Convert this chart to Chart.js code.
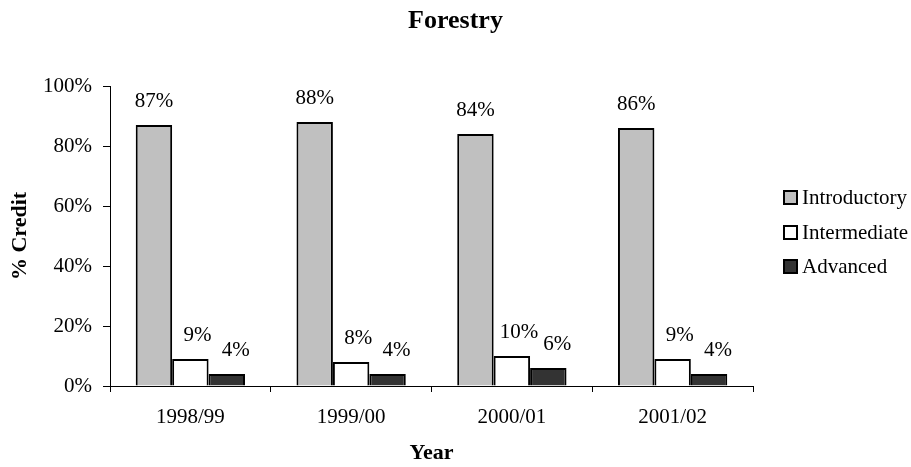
<!DOCTYPE html>
<html>
<head>
<meta charset="utf-8">
<title>Forestry</title>
<script src="https://cdn.jsdelivr.net/npm/chart.js@4/dist/chart.umd.min.js"></script>
<style>
  html, body { margin: 0; padding: 0; background: #ffffff; }
  #wrap { width: 911px; height: 467px; }
</style>
</head>
<body>
<div id="wrap"><canvas id="chart" width="911" height="467"></canvas></div>
<script>
// Share of credit by course level, per academic year
const years = ['1998/99', '1999/00', '2000/01', '2001/02'];
const introductory = [87, 88, 84, 86];
const intermediate = [9, 8, 10, 9];
const advanced = [4, 4, 6, 4];
const seriesNames = ['Introductory', 'Intermediate', 'Advanced'];
const yTicks = [0, 20, 40, 60, 80, 100];

const SERIF = "'Liberation Serif', 'Times New Roman', Times, serif";
const fills = ['#c0c0c0', '#ffffff', '#333333'];
const labelShift = [0, 7, 9];

const seriesValues = [introductory, intermediate, advanced];
const datasets = seriesNames.map((name, i) => ({
  label: name,
  data: seriesValues[i],
  backgroundColor: fills[i],
  borderColor: '#000000',
  borderWidth: 2,
  borderSkipped: 'start',
  categoryPercentage: 0.68,
  barPercentage: 1.0
}));

// Title, value labels and the legend on the right
const decorations = {
  id: 'decorations',
  afterDatasetsDraw(chart) {
    const ctx = chart.ctx;
    ctx.save();
    ctx.fillStyle = '#000000';
    ctx.font = '21px ' + SERIF;
    ctx.textAlign = 'center';
    ctx.textBaseline = 'alphabetic';
    chart.data.datasets.forEach((ds, di) => {
      const meta = chart.getDatasetMeta(di);
      meta.data.forEach((bar, i) => {
        ctx.fillText(ds.data[i] + '%', bar.x + labelShift[di], bar.y - 18);
      });
    });
    ctx.restore();
  },
  afterDraw(chart) {
    const ctx = chart.ctx;
    ctx.save();
    ctx.fillStyle = '#000000';
    ctx.font = 'bold 26px ' + SERIF;
    ctx.textAlign = 'center';
    ctx.textBaseline = 'middle';
    ctx.fillText('Forestry', chart.width / 2, 21);

    const boxX = 783, box = 15, textX = 802;
    const rows = [197, 232, 266];
    ctx.font = '21px ' + SERIF;
    ctx.textAlign = 'left';
    chart.data.datasets.forEach((ds, i) => {
      const cy = rows[i];
      ctx.fillStyle = ds.backgroundColor;
      ctx.fillRect(boxX, cy - 7, box, box);
      ctx.lineWidth = 2;
      ctx.strokeStyle = '#000000';
      ctx.strokeRect(boxX + 1, cy - 6, box - 2, box - 2);
      ctx.fillStyle = '#000000';
      ctx.fillText(ds.label, textX, cy + 1);
    });
    ctx.restore();
  }
};

new Chart(document.getElementById('chart'), {
  type: 'bar',
  data: { labels: years, datasets },
  plugins: [decorations],
  options: {
    responsive: false,
    animation: false,
    layout: { padding: { top: 86, right: 158, bottom: 0, left: 0 } },
    plugins: {
      legend: { display: false },
      title: { display: false },
      tooltip: { enabled: false }
    },
    scales: {
      x: {
        afterFit(scale) { scale.height = 81; },
        grid: {
          offset: true,
          drawOnChartArea: false,
          drawTicks: true,
          tickLength: 6,
          color: '#000000'
        },
        border: { display: true, color: '#000000', width: 1 },
        ticks: {
          color: '#000000',
          padding: 13,
          font: { family: SERIF, size: 21 },
          maxRotation: 0
        },
        title: {
          display: true,
          text: 'Year',
          color: '#000000',
          font: { family: SERIF, size: 22, weight: 'bold' },
          padding: { top: 0, bottom: 0 }
        }
      },
      y: {
        min: 0,
        max: 100,
        afterFit(scale) { scale.width = 110; },
        afterBuildTicks(scale) { scale.ticks = yTicks.map(v => ({ value: v })); },
        grid: {
          drawOnChartArea: false,
          drawTicks: true,
          tickLength: 7,
          color: '#000000'
        },
        border: { display: true, color: '#000000', width: 1 },
        ticks: {
          color: '#000000',
          padding: 11,
          font: { family: SERIF, size: 21 },
          callback: v => v + '%'
        },
        title: {
          display: true,
          text: '% Credit',
          color: '#000000',
          font: { family: SERIF, size: 22, weight: 'bold' },
          padding: { top: 7, bottom: 0 }
        }
      }
    }
  }
});
</script>
</body>
</html>
